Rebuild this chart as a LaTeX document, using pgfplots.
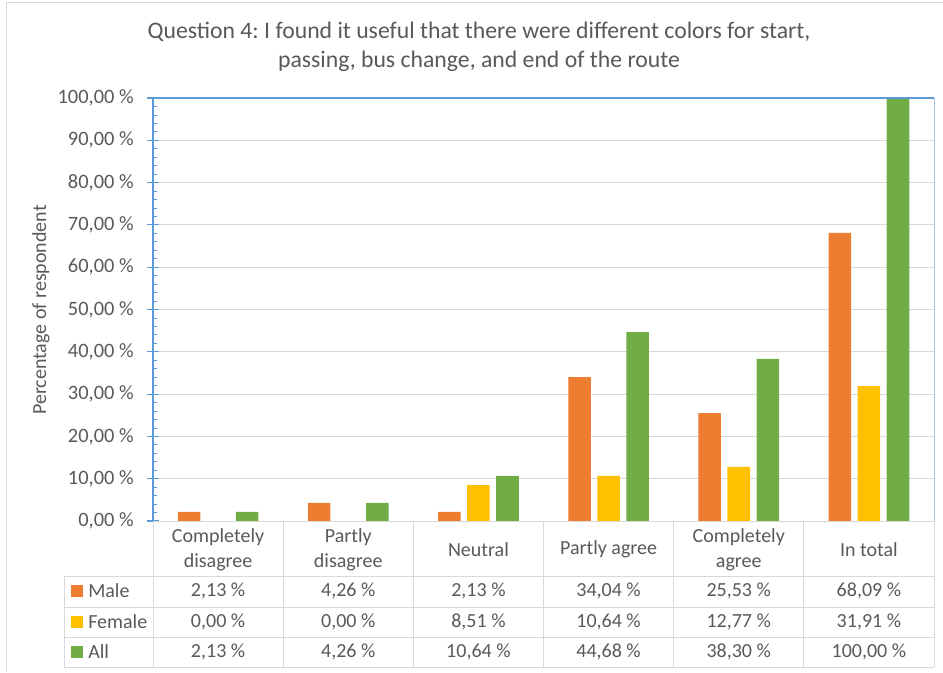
\documentclass[border=0pt]{standalone}
\usepackage{pgfplots}
\usepackage{pgfplotstable}
\pgfplotsset{compat=1.18}
\usepackage{fontspec}
\setmainfont{Carlito}
\frenchspacing

\definecolor{cmale}{HTML}{ED7D31}
\definecolor{cfemale}{HTML}{FFC000}
\definecolor{call}{HTML}{70AD47}
\definecolor{txt}{HTML}{595959}
\definecolor{gridgray}{HTML}{D9D9D9}
\definecolor{axblue}{HTML}{5B9BD5}
\definecolor{lightblue}{HTML}{9DC3E6}

\pgfkeys{/pgf/number format/.cd, fixed, fixed zerofill, precision=2, use comma, assume math mode=true}

% share of respondents (%) per answer
\pgfplotstableread{
cat male female all
0 2.13 0.00 2.13
1 4.26 0.00 4.26
2 2.13 8.51 10.64
3 34.04 10.64 44.68
4 25.53 12.77 38.30
5 68.09 31.91 100.00
}\datatable

\newcommand{\tabfont}{\fontsize{15}{19}\selectfont}

\begin{document}
\begin{tikzpicture}
\begin{scope}[x=0.75pt,y=0.75pt]
\path[use as bounding box] (0,0) rectangle (943,672);
% chart frame
\draw[gridgray, line width=0.75pt] (6.5,0) -- (6.5,669) -- (943,669);

% title
\node[text=txt, font=\fontsize{17.8}{21}\selectfont] at (479,640) {Question 4: I found it useful that there were different colors for start,};
\node[text=txt, font=\fontsize{17.8}{21}\selectfont] at (479,611) {passing, bus change, and end of the route};

% y label
\node[text=txt, font=\tabfont, rotate=90] at (41,362) {Percentage of respondent};
\end{scope}

\begin{axis}[
  at={(114.75pt,113.25pt)}, anchor=south west,
  scale only axis, width=585.75pt, height=317.25pt,
  xmin=-0.5, xmax=5.5, ymin=0, ymax=100,
  axis x line=none, axis y line*=left,
  ybar=4.9pt, bar width=16.9pt,
  xtick=\empty,
  ytick={0,10,...,100},
  yticklabel={\pgfmathprintnumber{\tick}~\%},
  yticklabel style={font=\fontsize{15.3}{19}\selectfont, text=txt, xshift=-6.5pt},
  ymajorgrids,
  major grid style={line width=0.75pt, draw=gridgray},
  y axis line style={draw=axblue, line width=0.8pt},
  tick align=center, major tick length=9pt,
  major tick style={draw=axblue, line width=0.8pt},
  extra y ticks={2,4,...,98}, extra y tick labels={},
  extra y tick style={grid=none, tick align=inside, major tick length=3pt,
    major tick style={draw=axblue, line width=0.6pt}},
  clip=false,
]
\addplot[fill=cmale, draw=none] table[x=cat, y=male] {\datatable};
\addplot[fill=cfemale, draw=none] table[x=cat, y=female] {\datatable};
\addplot[fill=call, draw=none] table[x=cat, y=all] {\datatable};
\draw[axblue, line width=0.8pt] (rel axis cs:0,1) -- (rel axis cs:1,1);
\draw[lightblue, line width=0.75pt] (rel axis cs:1,0) -- (rel axis cs:1,1);
\end{axis}

\begin{scope}[x=0.75pt,y=0.75pt]
% data table under the chart
\begin{scope}[gridgray, line width=0.75pt]
  \draw (153,151) -- (934,151);
  \foreach \yy in {96,65,35,5} \draw (64,\yy) -- (934,\yy);
  \draw (64,96) -- (64,5);
  \foreach \k in {0,...,6} \draw ({153+130.1667*\k},151) -- ({153+130.1667*\k},5);
\end{scope}

\foreach \name [count=\i from 0] in {{Completely\\disagree},{Partly\\disagree},{Neutral},{Partly agree},{Completely\\agree},{In total}}
  \node[text=txt, font=\fontsize{15}{18.75}\selectfont, align=center] at ({153+130.1667*(\i+0.5)},122.5) {\name};

\foreach \col/\yy in {male/81, female/50, all/20}{
  \foreach \i in {0,...,5}{
    \pgfplotstablegetelem{\i}{\col}\of\datatable
    \node[text=txt, font=\tabfont] at ({153+130.1667*(\i+0.5)},\yy) {\pgfmathprintnumber{\pgfplotsretval}~\%};
  }
}

% series keys
\foreach \c/\lab/\yy in {cmale/Male/81, cfemale/Female/50, call/All/20}{
  \fill[\c] (71,\yy-6) rectangle (83,\yy+6);
  \node[text=txt, font=\tabfont, anchor=west, inner sep=0pt] at (88,\yy) {\lab};
}
\end{scope}
\end{tikzpicture}
\end{document}
